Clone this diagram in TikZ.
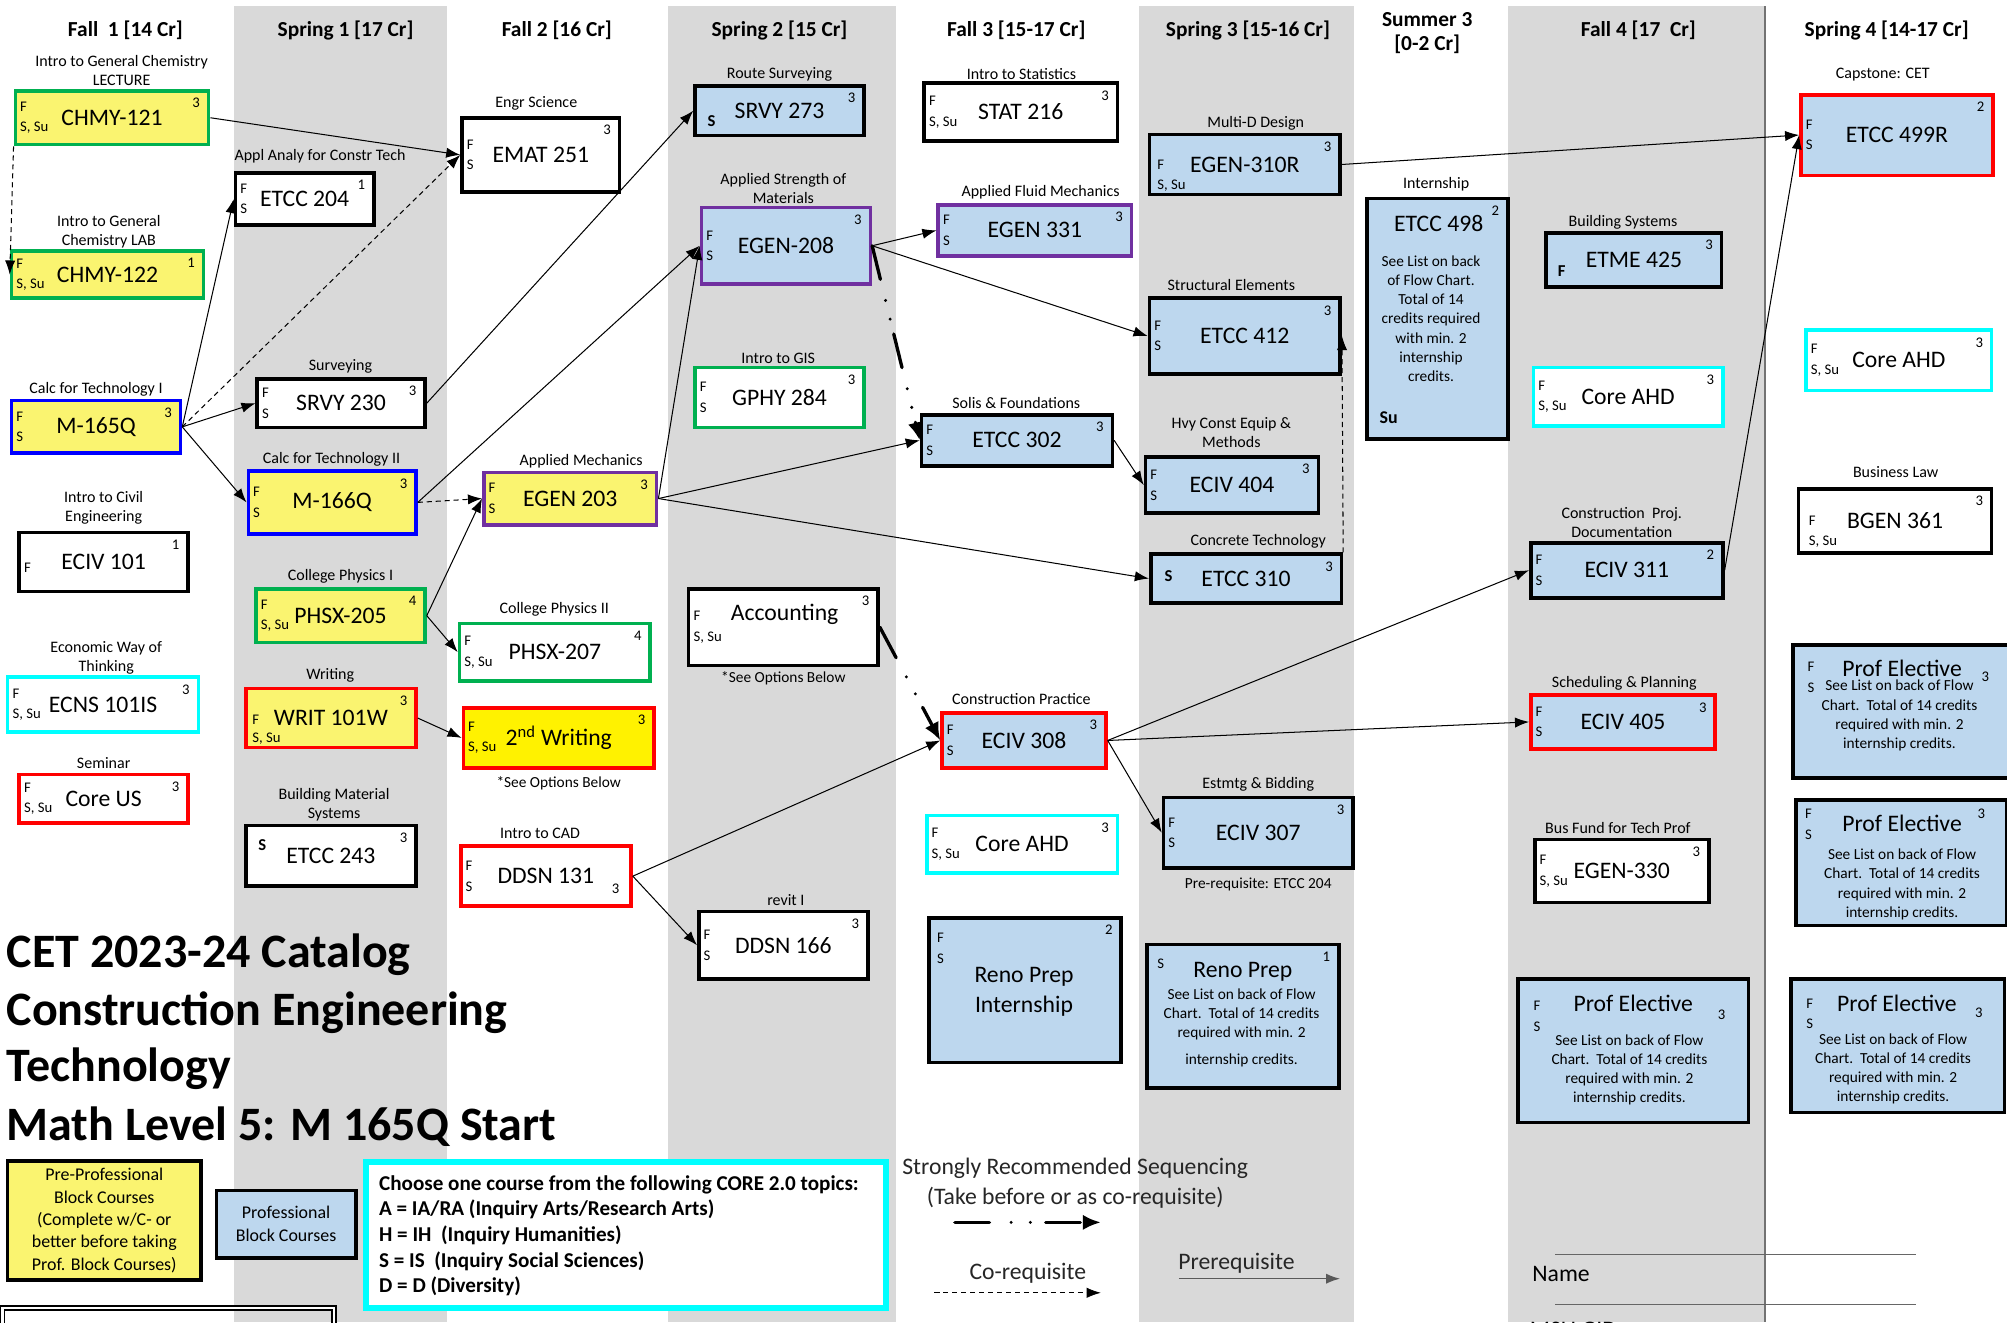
\documentclass[tikz,border=0pt]{standalone}
\usepackage{fontspec}
\setmainfont{Carlito}
\usetikzlibrary{arrows.meta,positioning}
\definecolor{colgray}{RGB}{217,217,217}
\definecolor{yfill}{RGB}{250,244,112}
\definecolor{bfill}{RGB}{189,215,238}
\definecolor{cgreen}{RGB}{0,176,80}
\definecolor{cpurple}{RGB}{112,48,160}
\definecolor{cblue}{RGB}{0,0,255}
\definecolor{cred}{RGB}{255,0,0}
\definecolor{ccyan}{RGB}{0,255,255}
\tikzset{
  box/.style={draw=black,line width=2.8pt,fill=white,inner sep=0pt},
  yel/.style={fill=yfill},
  blu/.style={fill=bfill},
  code/.style={font=\fontsize{18.5}{23}\selectfont,inner sep=0pt,align=center},
  offer/.style={font=\fontsize{11.5}{16}\selectfont,inner sep=0pt,align=left},
  credit/.style={font=\fontsize{11.5}{13}\selectfont,inner sep=0pt},
  ttl/.style={font=\fontsize{12.5}{15}\selectfont,inner sep=0pt,align=center},
  note/.style={font=\fontsize{12}{15}\selectfont,inner sep=0pt,align=center},
  head/.style={font=\bfseries\fontsize{16.7}{19}\selectfont,inner sep=0pt,align=center},
  big/.style={font=\bfseries\fontsize{37.5}{45}\selectfont,inner sep=0pt,anchor=base west},
  pre/.style={-{Latex[length=11pt,width=8pt]},line width=0.8pt},
  co/.style={pre,dash pattern=on 4pt off 3pt},
  seq/.style={-{Latex[length=14pt,width=12pt]},line width=2.6pt,line cap=round,
    dash pattern=on 27pt off 17pt on 0pt off 15pt on 0pt off 12pt},
}
\newcommand\course[9]{%
  \node[box,#2,minimum width={(#5-#3)*1pt},minimum height={(#6-#4)*1pt}] (#1) at ({(#3+#5)/2},{(#4+#6)/2}) {};
  \node[code] (#1-c) at (#1.center) {#8};
  \node[offer,anchor=west] (#1-o) at ([xshift=5pt]#1.west) {#7};
  \node[credit,anchor=north east] (#1-n) at ([xshift=-8pt,yshift=-7pt]#1.north east) {#9};}
\newcommand\seelist{See List on back of Flow\\Chart.\ \ Total of 14 credits\\required with min. 2\\internship credits.}

\begin{document}
\begin{tikzpicture}[x=1pt,y=-1pt]
  \useasboundingbox (0,0) rectangle (1568,1033);
  \fill[white] (0,0) rectangle (1568,1033);
  \foreach \a/\b in {183/349,522/700,890/1058,1178/1379}
    \fill[colgray] (\a,5) rectangle (\b,1033);
  \draw[black!55,line width=1pt] (1379,5) -- (1379,1033);

  \foreach \x/\y/\t [count=\i] in {98/24/{Fall\ \ 1 [14 Cr]},270/24/{Spring 1 [17 Cr]},435/24/{Fall 2 [16 Cr]},
      609/24/{Spring 2 [15 Cr]},794/24/{Fall 3 [15-17 Cr]},975/24/{Spring 3 [15-16 Cr]},
      1280/24/{Fall 4 [17\ \ Cr]},1474/24/{Spring 4 [14-17 Cr]}}
    \node[head] (head\i) at (\x,\y) {\t};
  \node[head] (head9) at (1115,26) {Summer 3\\{}[0-2 Cr]};

  \foreach \x/\y/\t [count=\i] in {95/55/{Intro to General Chemistry\\LECTURE},85/181/{Intro to General\\Chemistry LAB},
      75/304/{Calc for Technology I},81/397/{Intro to Civil\\Engineering},83/514/{Economic Way of\\Thinking},
      81/596/{Seminar},250/122/{Appl Analy for Constr Tech},266/286/{Surveying},259/359/{Calc for Technology II},
      266/450/{College Physics I},258/528/{Writing},261/629/{Building Material\\Systems},419/81/{Engr Science},
      454/360/{Applied Mechanics},433/476/{College Physics II},422/651/{Intro to CAD},609/58/{Route Surveying},
      612/147/{Applied Strength of\\Materials},608/280/{Intro to GIS},614/703/{revit I},798/58/{Intro to Statistics},
      813/150/{Applied Fluid Mechanics},794/315/{Solis \& Foundations},798/546/{Construction Practice},
      981/96/{Multi-D Design},962/223/{Structural Elements},962/338/{Hvy Const Equip \&\\Methods},
      983/423/{Concrete Technology},983/613/{Estmtg \& Bidding},1122/144/{Internship},1268/174/{Building Systems},
      1267/408/{Construction\ \ Proj.\\Documentation},1269/534/{Scheduling \& Planning},
      1264/647/{Bus Fund for Tech Prof},1471/58/{Capstone: CET},1481/369/{Business Law}}
    \node[ttl] (ttl\i) at (\x,\y) {\t};

  \course{chmy121}{yel,draw=cgreen}{12}{71}{163}{113}{F\\S, Su}{CHMY-121}{3}
  \course{chmy122}{yel,draw=cgreen}{9}{196}{159}{233}{F\\S, Su}{CHMY-122}{1}
  \course{m165q}{yel,draw=cblue}{9}{313}{141}{354}{F\\S}{M-165Q}{3}
  \course{eciv101}{}{15}{416}{147}{462}{\mbox{}\\F}{ECIV 101}{1}
  \course{ecns101}{draw=ccyan}{6}{529}{155}{572}{F\\S, Su}{ECNS 101IS}{3}
  \course{coreus}{draw=cred}{15}{605}{147}{643}{F\\S, Su}{Core US}{3}

  \course{etcc204}{}{184}{135}{292}{176}{F\\S}{ETCC 204}{1}
  \course{srvy230}{}{201}{296}{332}{334}{F\\S}{SRVY 230}{3}
  \course{m166q}{yel,draw=cblue}{194}{368}{325}{417}{F\\S}{M-166Q}{3}
  \course{phsx205}{yel,draw=cgreen}{200}{460}{332}{502}{F\\S, Su}{PHSX-205}{4}
  \course{writ101}{yel,draw=cred}{192}{538}{325}{584}{}{WRIT 101W}{3}
  \node[offer,anchor=west] (writ101-f) at (197,562) {F};
  \node[offer,anchor=west] (writ101-s) at (197,577) {S, Su};
  \course{etcc243}{}{192}{645}{325}{692}{}{ETCC 243}{3}
  \node[font=\bfseries\fontsize{13}{15}\selectfont,inner sep=0pt] (etcc243-s) at (205,660) {S};

  \course{emat251}{}{361}{92}{484}{150}{F\\S}{EMAT 251}{3}
  \course{egen203}{yel,draw=cpurple}{378}{369}{513}{410}{F\\S}{EGEN 203}{3}
  \course{phsx207}{draw=cgreen}{359}{487}{508}{532}{F\\S, Su}{PHSX-207}{4}
  \course{writ2}{draw=cred,fill=yellow}{362}{553}{511}{600}{F\\S, Su}{2\textsuperscript{nd} Writing}{3}
  \node[note,below=5pt of writ2] (opt1) {*See Options Below};
  \course{ddsn131}{draw=cred}{360}{661}{493}{708}{F\\S}{DDSN 131}{}
  \node[credit] (ddsn131-m) at (481,694) {3};

  \course{srvy273}{blu}{543}{67}{675}{106}{}{SRVY 273}{3}
  \node[font=\bfseries\fontsize{13}{15}\selectfont,inner sep=0pt] (srvy273-s) at (556,95) {S};
  \course{egen208}{blu,draw=cpurple}{548}{162}{680}{222}{F\\S}{EGEN-208}{3}
  \course{gphy284}{draw=cgreen}{543}{287}{675}{334}{F\\S}{GPHY 284}{3}
  \course{acct}{}{538}{460}{686}{520}{F\\S, Su}{}{3}
  \node[code] (acct-c) at (613,480) {Accounting};
  \node[note,below=3pt of acct] (opt2) {*See Options Below};
  \course{ddsn166}{}{546}{712}{678}{765}{F\\S}{DDSN 166}{3}

  \course{stat216}{}{722}{65}{873}{110}{F\\S, Su}{STAT 216}{3}
  \course{egen331}{blu,draw=cpurple}{733}{160}{884}{200}{F\\S}{EGEN 331}{3}
  \course{etcc302}{blu}{720}{324}{869}{364}{F\\S}{ETCC 302}{3}
  \course{eciv308}{blu,draw=cred}{736}{557}{864}{600}{F\\S}{ECIV 308}{3}
  \course{ahd1}{draw=ccyan}{724}{637}{873}{682}{F\\S, Su}{Core AHD}{3}
  \course{reno1}{blu}{726}{717}{876}{830}{}{}{2}
  \node[offer,anchor=west] (reno1-f) at (732,741) {F\\S};
  \node[code] (reno1-t) at (800,775) {Reno Prep\\Internship};

  \course{egen310}{blu}{898}{105}{1047}{152}{}{EGEN-310R}{3}
  \node[offer,anchor=west] (egen310-f) at (904,129) {F};
  \node[offer,anchor=west] (egen310-s) at (904,145) {S, Su};
  \course{etcc412}{blu}{898}{233}{1047}{292}{F\\S}{ETCC 412}{3}
  \course{eciv404}{blu}{895}{357}{1030}{401}{F\\S}{ECIV 404}{3}
  \course{etcc310}{blu}{899}{433}{1048}{471}{}{ETCC 310}{3}
  \node[font=\bfseries\fontsize{13}{15}\selectfont,inner sep=0pt] (etcc310-s) at (913,450) {S};
  \course{eciv307}{blu}{909}{623}{1057}{678}{F\\S}{ECIV 307}{3}
  \node[note,below=6pt of eciv307] (prereq) {Pre-requisite: ETCC 204};
  \course{reno2}{blu}{896}{738}{1046}{850}{}{}{1}
  \node[offer,anchor=west] (reno2-s) at (904,753) {S};
  \node[code] (reno2-t) at (971,759) {Reno Prep};
  \node[note] (reno2-d) at (970,803) {See List on back of Flow\\Chart.\ \ Total of 14 credits\\required with min. 2\\[6pt]internship credits.};

  \course{etcc498}{blu}{1068}{155}{1178}{343}{}{}{2}
  \node[code] (etcc498-c) at (1124,175) {ETCC 498};
  \node[note] (etcc498-d) at (1118,249) {See List on back\\of Flow Chart.\\Total of 14\\credits required\\with min. 2\\internship\\credits.};
  \node[font=\bfseries\fontsize{14}{16}\selectfont,inner sep=0pt] (etcc498-s) at (1085,326) {Su};

  \course{etme425}{blu}{1208}{182}{1345}{224}{}{ETME 425}{3}
  \node[font=\bfseries\fontsize{13}{15}\selectfont,inner sep=0pt] (etme425-f) at (1220,212) {F};
  \course{ahd2}{draw=ccyan}{1198}{287}{1346}{333}{F\\S, Su}{Core AHD}{3}
  \course{eciv311}{blu}{1196}{424}{1346}{467}{F\\S}{ECIV 311}{2}
  \course{eciv405}{blu,draw=cred}{1196}{543}{1340}{585}{F\\S}{ECIV 405}{3}
  \course{egen330}{}{1199}{656}{1335}{705}{F\\S, Su}{EGEN-330}{3}
  \course{prof1}{blu}{1186}{765}{1366}{877}{}{}{}
  \node[offer,anchor=west] (prof1-f) at (1198,794) {F\\S};
  \node[code] (prof1-t) at (1276,784) {Prof Elective};
  \node[credit] (prof1-n) at (1345,793) {3};
  \node[note] (prof1-d) at (1273,836) {\seelist};

  \course{etcc499}{blu,draw=cred}{1407}{74}{1557}{137}{F\\S}{ETCC 499R}{2}
  \course{ahd3}{draw=ccyan}{1411}{258}{1556}{305}{F\\S, Su}{Core AHD}{3}
  \course{bgen361}{}{1405}{382}{1556}{432}{}{BGEN 361}{3}
  \node[offer,anchor=west] (bgen361-f) at (1413,407) {F};
  \node[offer,anchor=west] (bgen361-s) at (1413,423) {S, Su};
  \course{prof2}{blu}{1401}{504}{1574}{608}{}{}{}
  \node[offer,anchor=west] (prof2-f) at (1412,529) {F\\S};
  \node[code] (prof2-t) at (1486,522) {Prof Elective};
  \node[credit] (prof2-n) at (1551,529) {3};
  \node[note] (prof2-d) at (1484,559) {See List on back of Flow\\Chart.\ \ Total of 14 credits\\required with min. 2\\internship credits.};
  \course{prof3}{blu}{1403}{625}{1568}{723}{}{}{}
  \node[offer,anchor=west] (prof3-f) at (1410,644) {F\\S};
  \node[code] (prof3-t) at (1486,643) {Prof Elective};
  \node[credit] (prof3-n) at (1548,636) {3};
  \node[note] (prof3-d) at (1486,691) {\seelist};
  \course{prof4}{blu}{1399}{765}{1566}{869}{}{}{}
  \node[offer,anchor=west] (prof4-f) at (1411,792) {F\\S};
  \node[code] (prof4-t) at (1482,784) {Prof Elective};
  \node[credit] (prof4-n) at (1546,791) {3};
  \node[note] (prof4-d) at (1479,835) {\seelist};

  \draw[pre] (chmy121.east) -- (emat251.west);
  \draw[co] (chmy121.south west) -- (chmy122.west);
  \draw[pre] (m165q.east) -- (etcc204.west);
  \draw[co] (m165q.east) -- (emat251.west);
  \draw[pre] (m165q.east) -- (srvy230.west);
  \draw[pre] (m165q.east) -- (m166q.west);
  \draw[pre] (srvy230.east) -- (srvy273.west);
  \draw[pre] (m166q.east) -- (egen208.west);
  \draw[co] (m166q.east) -- (egen203.west);
  \draw[pre] (phsx205.east) -- (egen203.west);
  \draw[pre] (phsx205.east) -- (phsx207.west);
  \draw[pre] (writ101.east) -- (writ2.west);
  \draw[pre] (egen203.east) -- (egen208.west);
  \draw[pre] (egen203.east) -- (etcc302.west);
  \draw[pre] (egen203.east) -- (etcc310.west);
  \draw[pre] (egen208.east) -- (egen331.west);
  \draw[pre] (egen208.east) -- (etcc412.west);
  \draw[seq] (egen208.east) -- (etcc302.west);
  \draw[seq] (acct.east) -- (eciv308.west);
  \draw[pre] (ddsn131.east) -- (eciv308.west);
  \draw[pre] (ddsn131.east) -- (ddsn166.west);
  \draw[pre] (etcc302.east) -- (eciv404.west);
  \draw[pre] (eciv308.east) -- (eciv311.west);
  \draw[pre] (eciv308.east) -- (eciv405.west);
  \draw[pre] (eciv308.east) -- (eciv307.west);
  \draw[co] (etcc310.north east) -- (etcc412.east);
  \draw[pre] (egen310.east) -- (etcc499.west);
  \draw[pre] (eciv311.east) -- (etcc499.west);

  \node[big] (title1) at (5,756) {CET 2023-24 Catalog};
  \node[big] (title2) at (5,801) {Construction Engineering};
  \node[big] (title3) at (5,845) {Technology};
  \node[big] (title4) at (5,891) {Math Level 5: M 165Q Start};

  \node[box,yel,minimum width=151pt,minimum height=93pt,align=center,
    font=\fontsize{14}{17.5}\selectfont] (preprof) at (81.5,953.5)
    {Pre-Professional\\Block Courses\\(Complete w/C- or\\better before taking\\Prof. Block Courses)};
  \node[box,blu,minimum width=109pt,minimum height=53pt,align=center,
    font=\fontsize{14}{18}\selectfont] (prof) at (223.5,956.5) {Professional\\Block Courses};
  \node[box,draw=ccyan,line width=5pt,minimum width=406pt,minimum height=114pt] (core) at (489,965) {};
  \foreach \t [count=\i] in {Choose one course from the following CORE 2.0 topics:,
      A = IA/RA (Inquiry Arts/Research Arts),H = IH\ \ (Inquiry Humanities),
      S = IS\ \ (Inquiry Social Sciences),D = D (Diversity)}
    \node[font=\bfseries\fontsize{16.5}{19}\selectfont,inner sep=0pt,anchor=base west] (core\i) at (296,910+20*\i) {\t};

  \node[code,text=black!85] (leg1) at (840,913) {Strongly Recommended Sequencing};
  \node[code,text=black!85] (leg2) at (840,936) {(Take before or as co-requisite)};
  \coordinate (sq1) at (746,955);
  \coordinate (sq2) at (860,955);
  \draw[seq] (sq1) -- (sq2);
  \node[code,text=black!85] (leg3) at (803,995) {Co-requisite};
  \coordinate (cq1) at (730,1010);
  \coordinate (cq2) at (860,1010);
  \draw[co,line width=0.6pt] (cq1) -- (cq2);
  \node[code,text=black!85] (leg4) at (966,987) {Prerequisite};
  \coordinate (pq1) at (921,999);
  \coordinate (pq2) at (1047,999);
  \draw[pre,draw=black!65,line width=1.2pt] (pq1) -- (pq2);

  \coordinate (nl1) at (1215,980);
  \coordinate (nr1) at (1497,980);
  \coordinate (nl2) at (1215,1019);
  \coordinate (nr2) at (1497,1019);
  \draw[black!60,line width=1pt] (nl1) -- (nr1);
  \draw[black!60,line width=1pt] (nl2) -- (nr2);
  \node[code,anchor=west] (name) at (1197,995) {Name};
  \node[code,anchor=west] (gid) at (1195,1039) {MSU GID};
  \draw[double,double distance=2pt,line width=1.2pt] (2,1022) rectangle (261,1060);
\end{tikzpicture}
\end{document}
